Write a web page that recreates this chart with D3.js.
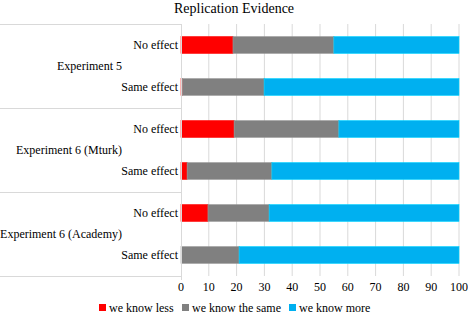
<!DOCTYPE html>
<html>
<head>
<meta charset="utf-8">
<script src="https://cdn.jsdelivr.net/npm/d3@7"></script>
<style>
  body { margin: 0; background: #fff; }
  text { font-family: "Liberation Serif", "DejaVu Serif", serif; fill: #000; }
</style>
</head>
<body>
<div id="chart"></div>
<script>
const groups = ['Experiment 5', 'Experiment 6 (Mturk)', 'Experiment 6 (Academy)'];
const conditions = ['No effect', 'Same effect'];
const seriesNames = ['we know less', 'we know the same', 'we know more'];
const seriesColors = ['#ff0000', '#808080', '#00b0f0'];

// percentages per row: [group, condition]
const knowLess = [18.7, 0.5, 19.1, 2.2, 9.7, 0];
const knowSame = [36.3, 29.4, 37.7, 30.5, 22.0, 20.9];
const knowMore = [45.0, 70.1, 43.2, 67.3, 68.3, 79.1];

const xTicks = d3.range(0, 101, 10);

const width = 468, height = 321;
const margin = { top: 24, right: 9, bottom: 45, left: 181 };

const svg = d3.select('#chart').append('svg')
    .attr('width', width)
    .attr('height', height);

const rows = [];
groups.forEach((g, gi) => {
    conditions.forEach((c, ci) => {
        const i = gi * conditions.length + ci;
        rows.push({ key: g + '|' + c, group: g, cond: c,
            values: [knowLess[i], knowSame[i], knowMore[i]] });
    });
});

const x = d3.scaleLinear().domain([0, 100]).range([margin.left, width - margin.right]);
const y = d3.scaleBand().domain(rows.map(r => r.key))
    .range([margin.top, height - margin.bottom])
    .paddingInner(0.6).paddingOuter(0.3);
const yGroup = d3.scaleBand().domain(groups)
    .range([margin.top, height - margin.bottom]);

svg.append('text')
    .attr('x', width / 2)
    .attr('y', 13)
    .attr('text-anchor', 'middle')
    .style('font-size', '14px')
    .text('Replication Evidence');

// vertical gridlines
svg.append('g')
    .selectAll('line')
    .data(xTicks.slice(1))
    .join('line')
    .attr('x1', d => x(d)).attr('x2', d => x(d))
    .attr('y1', margin.top).attr('y2', height - margin.bottom)
    .attr('stroke', '#d9d9d9').attr('stroke-width', 1);

// group separators on the category side
const sepY = groups.map(g => yGroup(g)).concat([height - margin.bottom]);
svg.append('g')
    .selectAll('line')
    .data(sepY)
    .join('line')
    .attr('x1', 0).attr('x2', margin.left)
    .attr('y1', d => Math.round(d) + 0.5).attr('y2', d => Math.round(d) + 0.5)
    .attr('stroke', '#d9d9d9');

// stacked bars
const stacked = rows.map(r => {
    let acc = 0;
    return r.values.map((v, si) => {
        const seg = { key: r.key, s: si, x0: acc, x1: acc + v };
        acc += v;
        return seg;
    });
}).flat();

svg.append('g')
    .selectAll('rect')
    .data(stacked.filter(d => d.x1 > d.x0))
    .join('rect')
    .attr('x', d => x(d.x0))
    .attr('width', d => x(d.x1) - x(d.x0))
    .attr('y', d => y(d.key))
    .attr('height', y.bandwidth())
    .attr('fill', d => seriesColors[d.s])
    .attr('stroke', d => d3.color(seriesColors[d.s]).brighter(0.5))
    .attr('stroke-width', 0.6);

// axis line at zero
svg.append('line')
    .attr('x1', x(0) + 0.5).attr('x2', x(0) + 0.5)
    .attr('y1', margin.top).attr('y2', height - margin.bottom + 4)
    .attr('stroke', '#d9d9d9');

// condition labels
svg.append('g')
    .selectAll('text')
    .data(rows)
    .join('text')
    .attr('x', margin.left - 3)
    .attr('y', d => y(d.key) + y.bandwidth() / 2)
    .attr('dy', '0.35em')
    .attr('text-anchor', 'end')
    .style('font-size', '12px')
    .text(d => d.cond);

// group labels
svg.append('g')
    .selectAll('text')
    .data(groups)
    .join('text')
    .attr('x', 122)
    .attr('y', d => yGroup(d) + yGroup.bandwidth() / 2)
    .attr('dy', '0.35em')
    .attr('text-anchor', 'end')
    .style('font-size', '12px')
    .text(d => d);

// x axis tick labels
svg.append('g')
    .selectAll('text')
    .data(xTicks)
    .join('text')
    .attr('x', d => x(d))
    .attr('y', height - margin.bottom + 15)
    .attr('text-anchor', 'middle')
    .style('font-size', '12px')
    .text(d => d);

// legend
const legendX = [99, 182, 289];
const legend = svg.append('g')
    .selectAll('g')
    .data(seriesNames)
    .join('g')
    .attr('transform', (d, i) => `translate(${legendX[i]},${height - 13})`);
legend.append('rect')
    .attr('width', 7).attr('height', 7)
    .attr('y', -4)
    .attr('fill', (d, i) => seriesColors[i]);
legend.append('text')
    .attr('x', 10)
    .attr('dy', '0.35em')
    .style('font-size', '12px')
    .text(d => d);
</script>
</body>
</html>
